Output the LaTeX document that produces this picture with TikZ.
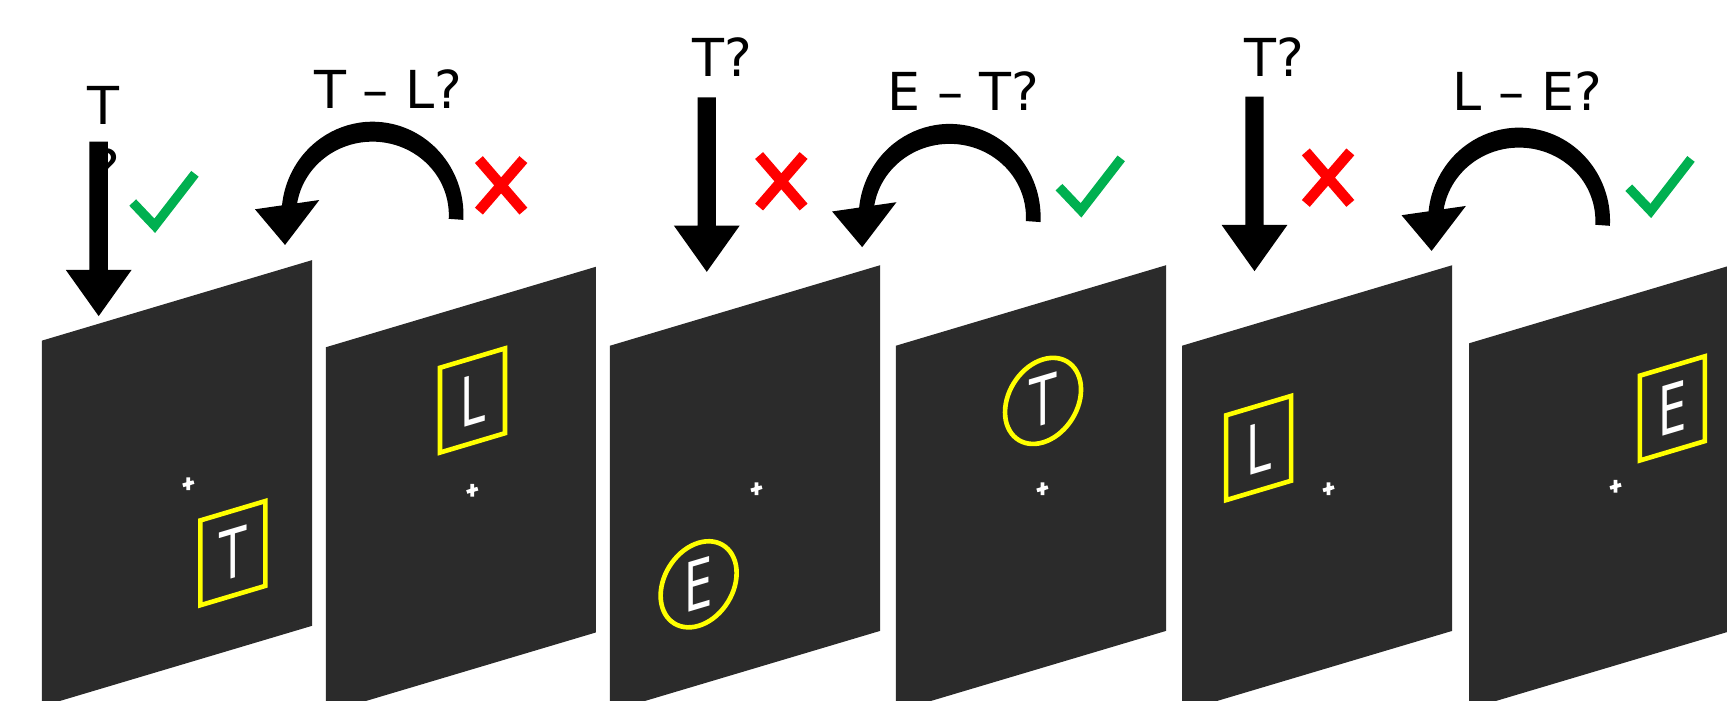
\documentclass[tikz,border=0pt]{standalone}
\usepackage{fontspec}
\setmainfont{DejaVu Sans}
\usepackage{graphicx}
\definecolor{panelgrey}{RGB}{43,43,43}
\definecolor{okgreen}{RGB}{0,176,80}
\definecolor{nored}{RGB}{255,0,0}
\definecolor{cueyellow}{RGB}{255,255,0}
\begin{document}
\begin{tikzpicture}[x=1pt, y=-1pt,
  sheet/.style 2 args={shift={(#1,#2)}, yslant=0.298},
  panel/.style={fill=panelgrey},
  cue/.style={draw=cueyellow, line width=4.2pt},
  fixcross/.style={draw=white, line width=3.4pt},
  letter/.style={transform shape, anchor=base, inner sep=0pt, text=white,
    font=\fontsize{61.7}{62}\selectfont},
  question/.style={anchor=base, inner sep=0pt, font=\fontsize{47.5}{58}\selectfont},
  tick/.style={draw=okgreen, line width=8.5pt, line join=miter},
  wrong/.style={draw=nored, line width=9.5pt},
  fixation/.pic={\draw[fixcross] (-5,0) -- (5,0) (0,-5.8) -- (0,5.8);},
  downarrow/.pic={
    \fill (-8.35,0) -- (8.35,0) -- (8.35,116.4) -- (29.9,116.4) -- (0,158.4)
      -- (-29.9,116.4) -- (-8.35,116.4) -- cycle;
  },
  turnarrow/.pic={
    \fill (3:82.6 and 84.7) arc[start angle=3, end angle=-185, x radius=82.6, y radius=84.7]
      -- (-185:69.3 and 66.6) arc[start angle=-185, end angle=3, x radius=69.3, y radius=66.6]
      -- cycle;
    \fill (-106.7,-5.2) -- (-48.3,-13.6) -- (-79.4,27.2) -- cycle;
  },
  checkmark/.pic={\draw[tick] (-20,-21.1) -- (0,0) -- (36.5,-47.2);},
  crossmark/.pic={\draw[wrong] (-20.2,-23.4) -- (20.2,23.4) (20.2,-23.4) -- (-20.2,23.4);},
]
\path[use as bounding box] (0,0) rectangle (1568,636);
\clip (0,0) rectangle (1568,636);

% screens, each a sheared sheet with a fixation cross and a cued letter
\begin{scope}[sheet={38.0}{309.3}]
  \fill[panel] (0,0) rectangle (245.3,332);
  \pic[transform shape] at (133,169.5) {fixation};
  \coordinate (c1) at (173.4,244.6);
  \draw[cue] ([shift={(-29.5,-38.5)}]c1) rectangle ([shift={(29.5,38.5)}]c1);
  \node[letter] (s1) at ([yshift=-22.5pt]c1) {\scalebox{0.66}[1]{T}};
\end{scope}

\begin{scope}[sheet={295.8}{315.3}]
  \fill[panel] (0,0) rectangle (245.3,332);
  \pic[transform shape] at (133,169.5) {fixation};
  \coordinate (c2) at (133.2,88);
  \draw[cue] ([shift={(-29.5,-38.5)}]c2) rectangle ([shift={(29.5,38.5)}]c2);
  \node[letter] (s2) at ([yshift=-22.5pt]c2) {\scalebox{0.66}[1]{L}};
\end{scope}

\begin{scope}[sheet={553.8}{313.9}]
  \fill[panel] (0,0) rectangle (245.3,332);
  \pic[transform shape] at (133,169.5) {fixation};
  \coordinate (c3) at (80.5,240.6);
  \draw[cue] (c3) ellipse[x radius=34.5, y radius=37.7];
  \node[letter] (s3) at ([yshift=-22.5pt]c3) {\scalebox{0.66}[1]{E}};
\end{scope}

\begin{scope}[sheet={813.4}{313.9}]
  \fill[panel] (0,0) rectangle (245.3,332);
  \pic[transform shape] at (133,169.5) {fixation};
  \coordinate (c4) at (133.6,89.9);
  \draw[cue] (c4) ellipse[x radius=34.5, y radius=37.7];
  \node[letter] (s4) at ([yshift=-22.5pt]c4) {\scalebox{0.66}[1]{T}};
\end{scope}

\begin{scope}[sheet={1073.2}{313.9}]
  \fill[panel] (0,0) rectangle (245.3,332);
  \pic[transform shape] at (133,169.5) {fixation};
  \coordinate (c5) at (69.5,113.6);
  \draw[cue] ([shift={(-29.5,-38.5)}]c5) rectangle ([shift={(29.5,38.5)}]c5);
  \node[letter] (s5) at ([yshift=-22.5pt]c5) {\scalebox{0.66}[1]{L}};
\end{scope}

\begin{scope}[sheet={1333.8}{311.7}]
  \fill[panel] (0,0) rectangle (245.3,332);
  \pic[transform shape] at (133,169.5) {fixation};
  \coordinate (c6) at (184.6,114.1);
  \draw[cue] ([shift={(-29.5,-38.5)}]c6) rectangle ([shift={(29.5,38.5)}]c6);
  \node[letter] (s6) at ([yshift=-22.5pt]c6) {\scalebox{0.66}[1]{E}};
\end{scope}

% questions
\node[question] (q1a) at (94.1,112.6) {T};
\node[question] (q1b) at (96.5,170.6) {?};
\node[question] (q2) at (352.5,98.4) {T \textendash{} L?};
\node[question] (q3) at (656,69.6) {T?};
\node[question] (q4) at (874.9,100.5) {E \textendash{} T?};
\node[question] (q5) at (1157,69.6) {T?};
\node[question] (q6) at (1387,100.5) {L \textendash{} E?};

% arrows
\pic at (89.6,128.6) {downarrow};
\pic at (641.7,88.4) {downarrow};
\pic at (1139,87.8) {downarrow};
\pic at (338.2,195.2) {turnarrow};
\pic at (862.2,197.2) {turnarrow};
\pic at (1379.2,200.6) {turnarrow};

% feedback marks
\pic at (140.5,205) {checkmark};
\pic at (981.5,191) {checkmark};
\pic at (1498.8,191.5) {checkmark};
\pic at (455,168.3) {crossmark};
\pic at (709.4,164.6) {crossmark};
\pic at (1205.8,161.3) {crossmark};
\end{tikzpicture}
\end{document}
